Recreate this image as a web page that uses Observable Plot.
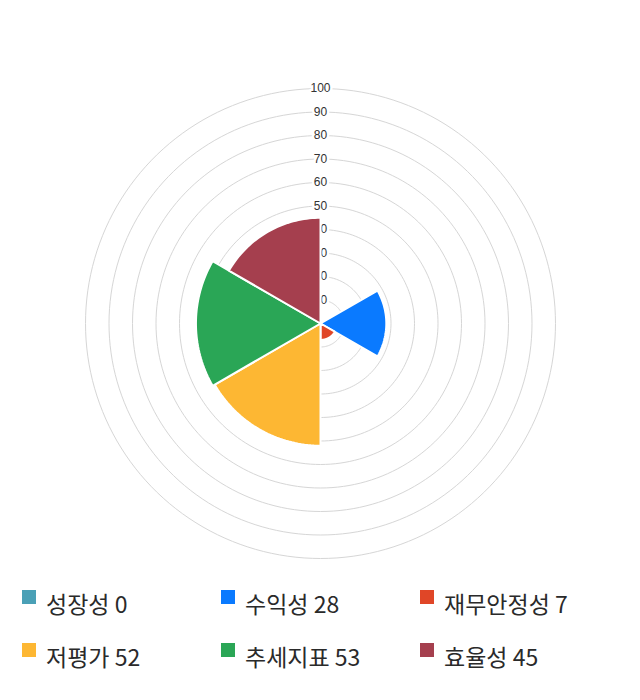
<!DOCTYPE html>
<html>
<head>
<meta charset="utf-8">
<script src="https://cdn.jsdelivr.net/npm/d3@7"></script>
<script src="https://cdn.jsdelivr.net/npm/@observablehq/plot@0.6"></script>
<style>
  body { margin: 0; background: #fff; font-family: "Noto Sans CJK KR", "Noto Sans", sans-serif; }
  #chart { width: 640px; height: 570px; }
  #legend { position: relative; width: 640px; height: 130px; }
  .item { position: absolute; display: flex; align-items: center; font-size: 23px; line-height: 30px; color: #2a2a2a; white-space: nowrap; }
  .sw { width: 14px; height: 14px; margin-right: 10px; position: relative; top: -6px; }
</style>
</head>
<body>
<div id="chart"></div>
<div id="legend"></div>
<script>
const categories = ["성장성", "수익성", "재무안정성", "저평가", "추세지표", "효율성"];
const values = [0, 28, 7, 52, 53, 45];
const colors = ["#4aa0b6", "#0a7aff", "#e04627", "#fdb733", "#2aa656", "#a53f4e"];
const ticks = [10, 20, 30, 40, 50, 60, 70, 80, 90, 100];

const rad = d => d * Math.PI / 180;

// sector polygons built from data values
const sectors = [];
categories.forEach((c, i) => {
  const v = values[i];
  const a0 = 60 * i, a1 = 60 * (i + 1);
  sectors.push({cat: c, x: 0, y: 0});
  const n = 40;
  for (let k = 0; k <= n; k++) {
    const a = rad(a0 + (a1 - a0) * k / n);
    sectors.push({cat: c, x: v * Math.sin(a), y: v * Math.cos(a)});
  }
  sectors.push({cat: c, x: 0, y: 0});
});

// ring circles
const rings = [];
ticks.forEach(t => {
  for (let k = 0; k <= 180; k++) {
    const a = rad(360 * k / 180);
    rings.push({r: t, x: t * Math.sin(a), y: t * Math.cos(a)});
  }
});

const tickLabels = ticks.map(t => ({r: t, x: 0, y: t}));

const plot = Plot.plot({
  width: 640,
  height: 570,
  marginLeft: 85,
  marginRight: 85,
  marginTop: 88,
  marginBottom: 12,
  x: {domain: [-100, 100], axis: null},
  y: {domain: [-100, 100], axis: null},
  color: {domain: categories, range: colors},
  marks: [
    Plot.line(rings, {x: "x", y: "y", z: "r", stroke: "#d6d6d6", strokeWidth: 1}),
    Plot.text(tickLabels, {x: "x", y: "y", text: d => String(d.r), fill: "#333", stroke: "white", strokeWidth: 5, fontSize: 12, fontFamily: "Arial, 'Liberation Sans', sans-serif", textAnchor: "middle"}),
    Plot.line(sectors, {x: "x", y: "y", z: "cat", fill: "cat", stroke: "white", strokeWidth: 2, strokeLinejoin: "miter"})
  ]
});
document.getElementById("chart").appendChild(plot);

const legend = document.getElementById("legend");
categories.forEach((c, i) => {
  const col = i % 3, row = Math.floor(i / 3);
  const div = document.createElement("div");
  div.className = "item";
  div.style.left = (22 + col * 199) + "px";
  div.style.top = (18 + row * 53) + "px";
  const sw = document.createElement("span");
  sw.className = "sw";
  sw.style.background = colors[i];
  const tx = document.createElement("span");
  tx.textContent = c + " " + values[i];
  div.appendChild(sw);
  div.appendChild(tx);
  legend.appendChild(div);
});
</script>
</body>
</html>
